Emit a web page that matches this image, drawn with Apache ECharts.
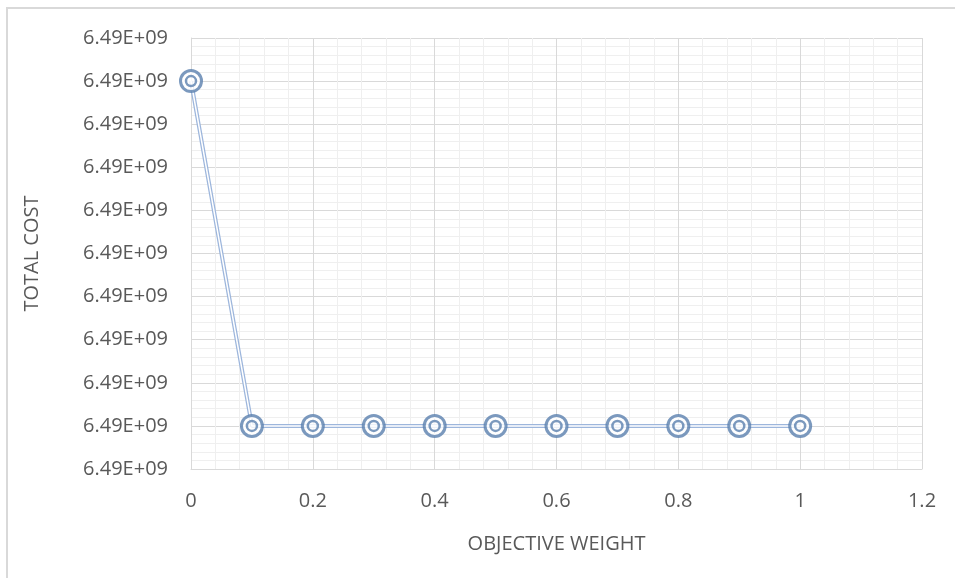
<!DOCTYPE html>
<html><head><meta charset="utf-8">
<style>html,body{margin:0;padding:0;background:#fff}#c{width:955px;height:578px}</style>
<script src="https://cdn.jsdelivr.net/npm/echarts@6/dist/echarts.min.js"></script>
</head><body><div id="c"></div>
<script>
const xValues = [0, 0.1, 0.2, 0.3, 0.4, 0.5, 0.6, 0.7, 0.8, 0.9, 1];
const totalCost = [6490009000, 6490001000, 6490001000, 6490001000, 6490001000, 6490001000, 6490001000, 6490001000, 6490001000, 6490001000, 6490001000];
const xAxisName = 'OBJECTIVE WEIGHT';
const yAxisName = 'TOTAL COST';

const pts = xValues.map((x, i) => [x, totalCost[i]]);
function sci(v) {
  const e = Math.floor(Math.log10(Math.abs(v)));
  const m = (v / Math.pow(10, e)).toFixed(2);
  return m + 'E' + (e >= 0 ? '+' : '-') + String(Math.abs(e)).padStart(2, '0');
}
const font = 'Open Sans';
const txt = '#595959';
const fs = 20;
const chart = echarts.init(document.getElementById('c'), null, {renderer: 'canvas'});
chart.setOption({
  animation: false,
  backgroundColor: '#fff',
  graphic: [{type: 'rect', shape: {x: 7, y: 8, width: 960, height: 580}, style: {fill: 'none', stroke: '#d9d9d9', lineWidth: 2}, z: -10}],
  grid: {left: 191, right: 33, top: 38, bottom: 109},
  xAxis: {
    type: 'value', min: 0, max: 1.2, interval: 0.2,
    name: xAxisName, nameLocation: 'middle', nameGap: 65,
    nameTextStyle: {color: txt, fontFamily: font, fontSize: 20},
    axisLine: {show: true, lineStyle: {color: '#d9d9d9', width: 1}},
    axisTick: {show: false},
    axisLabel: {color: txt, fontFamily: font, fontSize: fs, margin: 22, formatter: v => String(+v.toFixed(1))},
    splitLine: {show: true, lineStyle: {color: '#d9d9d9', width: 1}},
    minorTick: {show: false, splitNumber: 5},
    minorSplitLine: {show: true, lineStyle: {color: '#efefef', width: 1}}
  },
  yAxis: {
    type: 'value', min: 6490000000, max: 6490010000, interval: 1000,
    name: yAxisName, nameLocation: 'middle', nameGap: 149,
    nameTextStyle: {color: txt, fontFamily: font, fontSize: 20},
    axisLine: {show: true, lineStyle: {color: '#d9d9d9', width: 1}},
    axisTick: {show: false},
    axisLabel: {color: txt, fontFamily: font, fontSize: fs, margin: 23, formatter: v => sci(v)},
    splitLine: {show: true, lineStyle: {color: '#d9d9d9', width: 1}},
    minorTick: {show: false, splitNumber: 5},
    minorSplitLine: {show: true, lineStyle: {color: '#efefef', width: 1}}
  },
  series: [
    {type: 'line', data: pts, symbol: 'none', lineStyle: {color: '#9db6dc', width: 4}, z: 2},
    {type: 'line', data: pts, symbol: 'none', lineStyle: {color: '#ffffff', width: 1.5}, z: 3},
    {type: 'scatter', data: pts, symbol: 'circle', symbolSize: 21, itemStyle: {color: '#ffffff', borderColor: '#5a7fae', borderWidth: 3}, z: 4},
    {type: 'scatter', data: pts, symbol: 'circle', symbolSize: 10, itemStyle: {color: 'rgba(255,255,255,0)', borderColor: '#5a7fae', borderWidth: 2.5}, z: 5}
  ]
});
</script></body></html>
